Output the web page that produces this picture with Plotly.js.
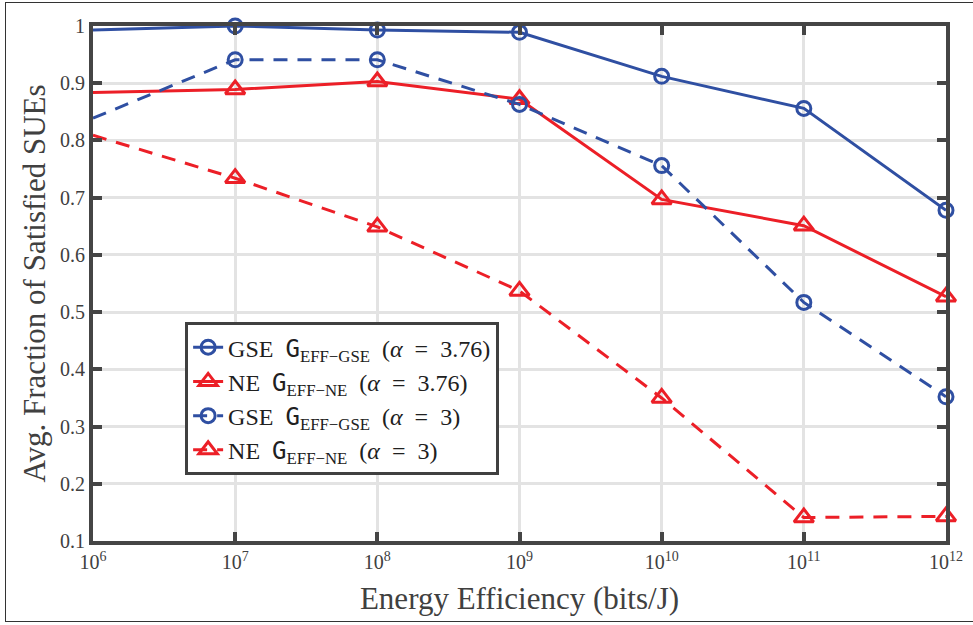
<!DOCTYPE html>
<html>
<head>
<meta charset="utf-8">
<script src="https://cdn.plot.ly/plotly-3.0.1.min.js"></script>
<style>
  html, body { margin: 0; padding: 0; background: #fff; }
  #wrap { position: relative; width: 973px; height: 625px; }
  #chart { width: 973px; height: 625px; }
  #frame { position: absolute; left: 5px; top: 2px; width: 975px; height: 620px; border: 1.5px solid #333; box-sizing: border-box; pointer-events: none; }
</style>
</head>
<body>
<div id="wrap"><div id="chart"></div><div id="frame"></div></div>
<script>
const energyEff = [1e6, 1e7, 1e8, 1e9, 1e10, 1e11, 1e12];
const xTickVals = [1e6, 1e7, 1e8, 1e9, 1e10, 1e11, 1e12];
const xTickText = ['10<sup>6</sup>', '10<sup>7</sup>', '10<sup>8</sup>', '10<sup>9</sup>', '10<sup>10</sup>', '10<sup>11</sup>', '10<sup>12</sup>'];
const yTickVals = [0.1, 0.2, 0.3, 0.4, 0.5, 0.6, 0.7, 0.8, 0.9, 1];
const yTickText = ['0.1', '0.2', '0.3', '0.4', '0.5', '0.6', '0.7', '0.8', '0.9', '1'];

const gseA376 = [0.993, 1.0, 0.993, 0.989, 0.912, 0.856, 0.678];
const neA376  = [0.884, 0.889, 0.903, 0.872, 0.697, 0.651, 0.527];
const gseA3   = [0.839, 0.941, 0.941, 0.863, 0.756, 0.517, 0.352];
const neA3    = [0.809, 0.734, 0.649, 0.537, 0.350, 0.141, 0.143];

const G = '<span style="font-family:DejaVu Sans Mono">G</span>';
const EQ = '\u2002=\u2002';
const SP = '\u2002';
const names = [
  'GSE' + SP + G + '<sub>EFF−GSE</sub>' + SP + '(<i>α</i>' + EQ + '3.76)',
  'NE' + SP + G + '<sub>EFF−NE</sub>' + SP + '(<i>α</i>' + EQ + '3.76)',
  'GSE' + SP + G + '<sub>EFF−GSE</sub>' + SP + '(<i>α</i>' + EQ + '3)',
  'NE' + SP + G + '<sub>EFF−NE</sub>' + SP + '(<i>α</i>' + EQ + '3)'
];

const blue = '#2f4fa2';
const red = '#ec1f27';
const dashPat = '14px,10px';

function tr(y, name, color, sym, dash) {
  return {
    x: energyEff, y: y, name: name, type: 'scatter', mode: 'lines+markers',
    line: {color: color, width: 3, dash: dash},
    marker: {symbol: sym, size: sym === 'circle-open' ? 14 : 17, color: color, line: {color: color, width: 3}},
    cliponaxis: false
  };
}

const data = [
  tr(gseA376, names[0], blue, 'circle-open', 'solid'),
  tr(neA376, names[1], red, 'triangle-up-open', 'solid'),
  tr(gseA3, names[2], blue, 'circle-open', dashPat),
  tr(neA3, names[3], red, 'triangle-up-open', dashPat)
];

const serif = 'Liberation Serif';
const axisCommon = {
  showline: true, linecolor: '#454545', linewidth: 4, mirror: 'ticks',
  ticks: 'inside', ticklen: 9, tickwidth: 4, tickcolor: '#454545',
  showgrid: true, gridcolor: '#e3e3e3', gridwidth: 3, zeroline: false,
  tickfont: {family: serif, size: 20, color: '#404040'},
  layer: 'above traces'
};

const layout = {
  width: 973, height: 625,
  margin: {l: 93, r: 27, t: 26, b: 84},
  paper_bgcolor: '#ffffff', plot_bgcolor: '#ffffff',
  font: {family: serif},
  showlegend: true,
  xaxis: Object.assign({}, axisCommon, {
    type: 'log', range: [6, 12], tickmode: 'array', tickvals: xTickVals, ticktext: xTickText,
    title: {text: 'Energy Efficiency (bits/J)', font: {family: serif, size: 31, color: '#404040'}, standoff: 16}
  }),
  yaxis: Object.assign({}, axisCommon, {
    range: [0.1, 1], tickmode: 'array', tickvals: yTickVals, ticktext: yTickText,
    title: {text: 'Avg. Fraction of Satisfied SUEs', font: {family: serif, size: 31, color: '#404040'}, standoff: 6}
  }),
  legend: {
    x: 0.108, y: 0.425, xanchor: 'left', yanchor: 'top',
    bgcolor: '#ffffff', bordercolor: '#404040', borderwidth: 3,
    font: {family: serif, size: 24, color: '#202020'},
    itemwidth: 30, tracegroupgap: 0
  }
};

Plotly.newPlot('chart', data, layout, {displayModeBar: false, staticPlot: true});
</script>
</body>
</html>
